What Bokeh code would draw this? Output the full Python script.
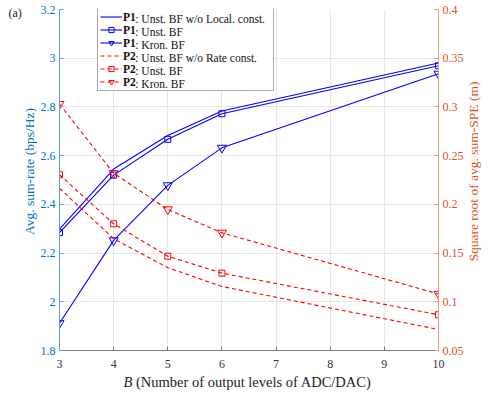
import math
from bokeh.plotting import figure
from bokeh.models import Range1d, LinearAxis, FixedTicker, Legend, LegendItem
from bokeh.core.properties import value
from bokeh.embed import file_html
from bokeh.resources import INLINE

# ---------------- data ----------------
B = [3, 4, 5, 6, 10]
p1_unst_noloc = [2.298, 2.545, 2.683, 2.783, 2.980]
p1_unst = [2.284, 2.520, 2.667, 2.772, 2.969]
p1_kron = [1.912, 2.252, 2.478, 2.632, 2.936]
p2_unst_norate = [0.2165, 0.1647, 0.1350, 0.1157, 0.0716]
p2_unst = [0.2304, 0.1800, 0.1468, 0.1294, 0.0867]
p2_kron = [0.3030, 0.2320, 0.1948, 0.1708, 0.1080]

x_ticks = [3, 4, 5, 6, 7, 8, 9, 10]
rate_ticks = [1.8, 2.0, 2.2, 2.4, 2.6, 2.8, 3.0, 3.2]
spe_ticks = [0.05, 0.1, 0.15, 0.2, 0.25, 0.3, 0.35, 0.4]

legend_tags = ["P1", "P1", "P1", "P2", "P2", "P2"]
legend_texts = [": Unst. BF w/o Local. const.", ": Unst. BF", ": Kron. BF",
                ": Unst. BF w/o Rate const.", ": Unst. BF", ": Kron. BF"]

left_label = "Avg. sum-rate (bps/Hz)"
right_label = "Square root of avg. sum-SPE (m)"
x_label_var = "B"
x_label_rest = "(Number of output levels of ADC/DAC)"
panel_tag = "(a)"

# ---------------- style ----------------
FONT = "Liberation Serif"
BLUE = "#0000FF"
RED = "#FF0000"
LCOL = "#0072BD"
RCOL = "#D95319"

X0, X1, Y0, Y1 = 3, 10, 1.8, 3.2
FW, FH = 379, 341
BL, BR, BT, BB = 59, 53, 9, 46

p = figure(width=BL + FW + BR, height=BT + FH + BB,
           frame_width=FW, frame_height=FH,
           min_border_left=BL, min_border_right=BR,
           min_border_top=BT, min_border_bottom=BB,
           x_range=Range1d(X0, X1), y_range=Range1d(Y0, Y1),
           output_backend="svg", toolbar_location=None)
p.extra_y_ranges = {"spe": Range1d(0.05, 0.4)}
p.outline_line_color = None
p.background_fill_color = "white"
p.border_fill_color = "white"


def dx(px):  # pixel offset from frame left -> data x
    return X0 + px / FW * (X1 - X0)


def dy(py):  # pixel offset from frame top -> data y
    return Y1 - py / FH * (Y1 - Y0)


# x axis
xa = p.xaxis[0]
xa.ticker = FixedTicker(ticks=x_ticks)
xa.axis_line_color = "#7a7a7a"
xa.major_tick_line_color = "#7a7a7a"
xa.major_tick_in = 4
xa.major_tick_out = 0
xa.minor_tick_line_color = None
xa.major_label_text_font = FONT
xa.major_label_text_font_size = "12px"
xa.major_label_text_color = "#333333"
xa.major_label_standoff = 9

# left y axis
ya = p.yaxis[0]
ya.ticker = FixedTicker(ticks=rate_ticks)
ya.major_label_overrides = {t: f"{t:g}" for t in rate_ticks}
ya.axis_line_color = "#5b9fd3"
ya.major_tick_line_color = "#5b9fd3"
ya.major_tick_in = 4
ya.major_tick_out = 0
ya.minor_tick_line_color = None
ya.major_label_text_font = FONT
ya.major_label_text_font_size = "12px"
ya.major_label_text_color = LCOL
ya.major_label_standoff = 4

# right y axis
ra = LinearAxis(y_range_name="spe")
ra.ticker = FixedTicker(ticks=spe_ticks)
ra.major_label_overrides = {t: f"{t:g}" for t in spe_ticks}
ra.axis_line_color = "#eb9a80"
ra.major_tick_line_color = "#eb9a80"
ra.major_tick_in = 4
ra.major_tick_out = 0
ra.minor_tick_line_color = None
ra.major_label_text_font = FONT
ra.major_label_text_font_size = "12px"
ra.major_label_text_color = RCOL
ra.major_label_standoff = 4
p.add_layout(ra, "right")

# grid
p.xgrid.ticker = FixedTicker(ticks=x_ticks)
p.ygrid.ticker = FixedTicker(ticks=rate_ticks)
p.grid.grid_line_color = "#e6e6e6"
p.grid.grid_line_width = 1

# ---------------- legend background (white box over grid) ----------------
PAD, GW, GH, STAND, LW = 2, 22, 13, 1, 148
LEG_X = 38
LFS = 11.5
n_items = len(legend_tags)
leg_h = 2 * PAD + GH * n_items
leg_w = 2 * PAD + GW + STAND + LW
p.quad(left=[dx(LEG_X)], right=[dx(LEG_X + leg_w)], top=[dy(0)],
       bottom=[dy(leg_h)], fill_color="white", line_color=None)

# ---------------- series ----------------
r1 = p.line(B, p1_unst_noloc, line_color=BLUE, line_width=1.1)
r2l = p.line(B, p1_unst, line_color=BLUE, line_width=1.1)
r2m = p.scatter(B, p1_unst, marker="square", size=6, line_color=BLUE,
                fill_color=None, line_width=1)
r3l = p.line(B, p1_kron, line_color=BLUE, line_width=1.1)
r3m = p.scatter(B, p1_kron, marker="inverted_triangle", size=9, line_color=BLUE,
                fill_color=None, line_width=1)

r4 = p.line(B, p2_unst_norate, line_color=RED, line_width=1.1, line_dash="4 3",
            y_range_name="spe")
r5l = p.line(B, p2_unst, line_color=RED, line_width=1.1, line_dash="4 3",
             y_range_name="spe")
r5m = p.scatter(B, p2_unst, marker="square", size=6, line_color=RED,
                fill_color=None, line_width=1, y_range_name="spe")
r6l = p.line(B, p2_kron, line_color=RED, line_width=1.1, line_dash="4 3",
             y_range_name="spe")
r6m = p.scatter(B, p2_kron, marker="inverted_triangle", size=9, line_color=RED,
                fill_color=None, line_width=1, y_range_name="spe")

renderer_groups = [[r1], [r2l, r2m], [r3l, r3m], [r4], [r5l, r5m], [r6l, r6m]]

# ---------------- legend ----------------
leg = Legend(items=[LegendItem(label=t, renderers=g)
                    for t, g in zip(legend_tags, renderer_groups)],
             location=(LEG_X, FH - leg_h),
             padding=PAD, spacing=0, margin=0,
             glyph_width=GW, glyph_height=GH, label_height=GH,
             label_width=LW, label_standoff=STAND,
             label_text_font=FONT, label_text_font_size=f"{LFS}px",
             label_text_font_style="bold", label_text_color="#111111",
             border_line_color="#555555", border_line_width=1,
             background_fill_alpha=0.0)
p.add_layout(leg, "center")

# legend text (normal weight part), drawn on the white box
tag_w = 1.111 * LFS
p.text(x=[dx(LEG_X + PAD + GW + STAND + tag_w)] * n_items,
       y=[dy(PAD + GH * i + GH / 2 + 0.5) for i in range(n_items)],
       text=legend_texts, text_font=value(FONT),
       text_font_size=value(f"{LFS}px"), text_color="#111111",
       text_baseline="middle", text_align="left")

# x axis label with italic B
XS = 14.5
XL_START = 123 - BL
p.text(x=[dx(XL_START)], y=[dy(FH + 31)], text=[x_label_var],
       text_font=value(FONT), text_font_size=value(f"{XS}px"),
       text_font_style="italic", text_color="#222222",
       text_baseline="middle", text_align="left", level="overlay")
p.text(x=[dx(XL_START + 0.861 * XS)], y=[dy(FH + 31)], text=[x_label_rest],
       text_font=value(FONT), text_font_size=value(f"{XS}px"),
       text_color="#222222", text_baseline="middle", text_align="left",
       level="overlay")

# y axis labels (rotated)
YS = 13.5
p.text(x=[dx(29 - BL)], y=[dy(171 - BT)], text=[left_label], angle=math.pi / 2,
       text_font=value(FONT), text_font_size=value(f"{YS}px"),
       text_color=LCOL, text_baseline="middle", text_align="center",
       level="overlay")
p.text(x=[dx(473 - BL)], y=[dy(171 - BT)], text=[right_label], angle=math.pi / 2,
       text_font=value(FONT), text_font_size=value(f"{YS}px"),
       text_color=RCOL, text_baseline="middle", text_align="center",
       level="overlay")

# panel tag
p.text(x=[dx(-51)], y=[dy(3)], text=[panel_tag], text_font=value(FONT),
       text_font_size=value("12px"), text_color="#222222",
       text_baseline="middle", text_align="left", level="overlay")

open("out.html", "w").write(file_html(p, INLINE))
